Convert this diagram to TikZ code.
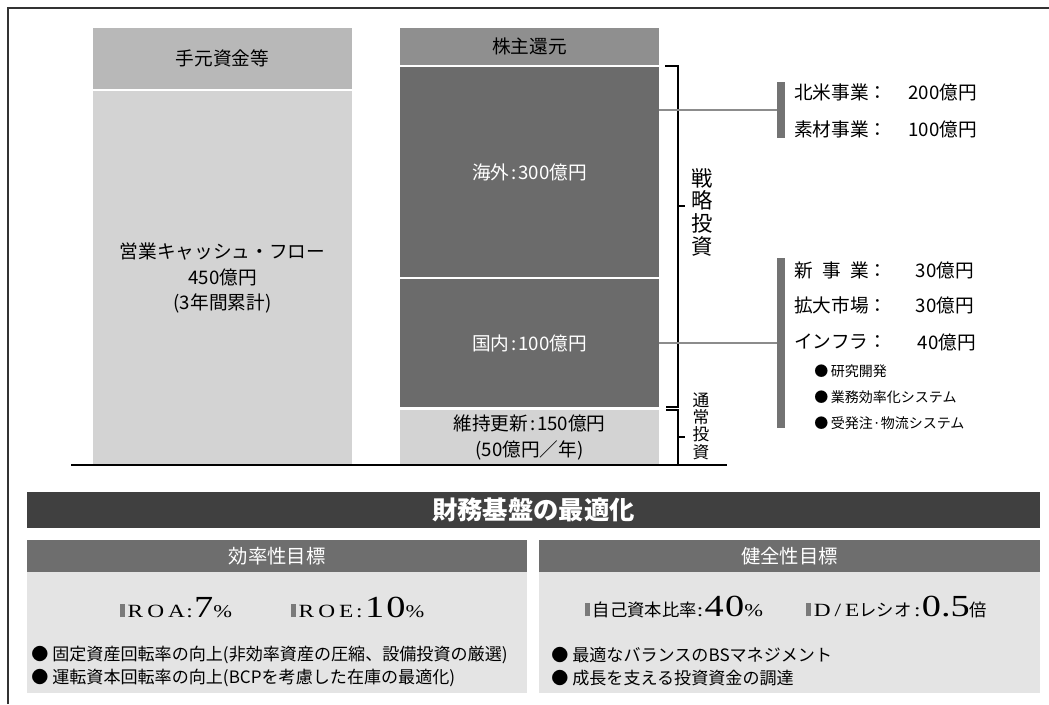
\documentclass[tikz,border=0pt]{standalone}
\usepackage{fontspec}
\setmainfont{Noto Sans CJK JP}
\newfontfamily\jpfont{Noto Sans CJK JP}
\newfontfamily\latinserif[FakeStretch=1.25]{Liberation Serif}
\usepackage{xcolor}
\usetikzlibrary{positioning,calc}

\definecolor{boxhead}{HTML}{B8B8B8}
\definecolor{boxlight}{HTML}{D3D3D3}
\definecolor{boxmid}{HTML}{8F8F8F}
\definecolor{boxdark}{HTML}{6B6B6B}
\definecolor{barg}{HTML}{737373}
\definecolor{linkg}{HTML}{8C8C8C}
\definecolor{titlebg}{HTML}{404040}
\definecolor{panelhead}{HTML}{6E6E6E}
\definecolor{panelbody}{HTML}{E4E4E4}
\definecolor{markg}{HTML}{7A7A7A}
\definecolor{frameg}{HTML}{333333}

\newcommand{\kpimark}{\textcolor{markg}{\rule{4pt}{10pt}}\kern2pt}
\newcommand{\kpibig}[1]{{\fontsize{23}{23}\selectfont #1}}
\newcommand{\kpismall}[1]{{\fontsize{13.5}{13}\selectfont #1}}
\newcommand{\kpijp}[1]{{\jpfont\fontsize{13}{14}\selectfont #1}}

\begin{document}
\begin{tikzpicture}[x=0.75pt, y=-0.75pt,
  blk/.style n args={3}{fill=#1, minimum width=#2*0.75pt, minimum height=#3*0.75pt, anchor=north west, inner sep=0pt, outer sep=0pt, align=center},
  lbl/.style={font=\fontsize{14}{19}\selectfont},
  item/.style={font=\fontsize{14}{16}\selectfont, anchor=west, inner sep=0pt},
  amt/.style={font=\fontsize{14}{16}\selectfont, anchor=east, inner sep=0pt},
  sub/.style={font=\fontsize{10.5}{12}\selectfont, anchor=west, inner sep=0pt},
  bar/.style={fill=barg, minimum width=8*0.75pt, minimum height=#1*0.75pt, inner sep=0pt, outer sep=0pt, anchor=north west},
  brk/.style={line width=0.8pt},
  link/.style={draw=linkg, line width=1pt},
  panelhd/.style={text=white, font=\fontsize{14.5}{16}\selectfont},
  kpi/.style={inner sep=0pt, font=\latinserif\fontsize{14}{15}\selectfont},
  note/.style={font=\fontsize{12.8}{14}\selectfont, anchor=west, inner sep=0pt}
]
  \useasboundingbox (0,0) rectangle (1049,704);
  \draw[frameg, line width=1.5pt] (8,704) -- (8,8) -- (1049,8);

  \node[blk={boxhead}{259}{61}, lbl] (cash_head) at (93,28) {手元資金等};
  \node[blk={boxlight}{259}{374}, lbl] (cash_flow) at (93,91) {営業キャッシュ・フロー\\450億円\\(3年間累計)};

  \node[blk={boxmid}{259}{37}, lbl] (payout) at (400,28) {株主還元};
  \node[blk={boxdark}{259}{210}, lbl, text=white] (kaigai) at (400,67) {海外\kern1.5pt:\kern1.5pt300億円};
  \node[blk={boxdark}{259}{128}, lbl, text=white] (kokunai) at (400,279) {国内\kern1.5pt:\kern1.5pt100億円};
  \node[blk={boxlight}{259}{55}, font=\fontsize{14}{20}\selectfont] (upkeep) at (400,410) {維持更新\kern1.5pt:\kern1.5pt150億円\\(50億円／年)};

  \draw[line width=1.2pt] (71,465) -- (727,465);

  \draw[brk] (665,66) -- (678,66) -- (678,407) -- (666,407);
  \draw[brk] (678,206) -- (685,206);
  \draw[brk] (666,410) -- (678,410) -- (678,465);
  \draw[brk] (678,437) -- (685,437);
  \node[font=\fontsize{16}{17}\selectfont, align=center, inner sep=0pt] (senryaku) at (702,212) {戦\\略\\投\\資};
  \node[font=\fontsize{12.5}{13}\selectfont, align=center, inner sep=0pt] (tsujo) at (701,426) {通\\常\\投\\資};

  \node[bar=56] (bar_kaigai) at (777,82) {};
  \node[bar=170] (bar_kokunai) at (777,258) {};
  \draw[link] (kaigai.east |- bar_kaigai.west) -- (bar_kaigai.west);
  \draw[link] (kokunai.east) -- (bar_kokunai.west);

  \node[item] (na_l) at (794,92) {北米事業：};
  \node[amt] (na_v) at (977,92) {200億円};
  \node[item] (mat_l) at (794,129) {素材事業：};
  \node[amt] (mat_v) at (977,129) {100億円};
  \node[item] (new_l) at (794,270) {新\hspace{0.5em}事\hspace{0.5em}業：};
  \node[amt] (new_v) at (974,270) {30億円};
  \node[item] (mkt_l) at (794,305) {拡大市場：};
  \node[amt] (mkt_v) at (974,305) {30億円};
  \node[item] (inf_l) at (794,342) {インフラ：};
  \node[amt] (inf_v) at (976,342) {40億円};
  \node[sub] (inf_a) at (814,371) {●\kern2pt 研究開発};
  \node[sub] (inf_b) at (814,397) {●\kern2pt 業務効率化システム};
  \node[sub] (inf_c) at (814,423) {●\kern2pt 受発注·物流システム};

  \node[blk={titlebg}{1013}{36}, text=white, font=\fontsize{19}{20}\selectfont\bfseries] (title) at (27,492) {財務基盤の最適化};

  \node[blk={panelhead}{500}{32}, panelhd] (eff_head) at (27,540) {効率性目標};
  \node[blk={panelbody}{500}{121}] (eff_body) at (27,572) {};
  \node[blk={panelhead}{501}{32}, panelhd] (sound_head) at (539,540) {健全性目標};
  \node[blk={panelbody}{501}{121}] (sound_body) at (539,572) {};

  \node[kpi] (eff_kpi) at (272,607) {\kpimark R\kern3pt O\kern3pt A\kern1pt:\kern1pt\kpibig{7}\kpismall{\%}\hspace{44pt}\kpimark R\kern3pt O\kern3pt E\kern2pt:\kern2pt\kpibig{1\kern1.5pt 0}\kpismall{\%}};
  \node[kpi] (sound_kpi) at (786,607) {\kpimark\kpijp{自己資本比率}:\kern1pt\kpibig{4\kern1pt 0}\kpismall{\%}\hspace{32pt}\kpimark D\kern3pt/\kern3pt E\kpijp{レシオ}\kern2pt:\kern1pt\kpibig{0.5}\kpijp{倍}};

  \node[note] (eff_n1) at (31,655) {●\kern3pt 固定資産回転率の向上(非効率資産の圧縮、設備投資の厳選)};
  \node[note] (eff_n2) at (31,678) {●\kern3pt 運転資本回転率の向上(BCPを考慮した在庫の最適化)};
  \node[note] (sound_n1) at (551,655) {●\kern3pt 最適なバランスのBSマネジメント};
  \node[note] (sound_n2) at (551,678) {●\kern3pt 成長を支える投資資金の調達};
\end{tikzpicture}
\end{document}
